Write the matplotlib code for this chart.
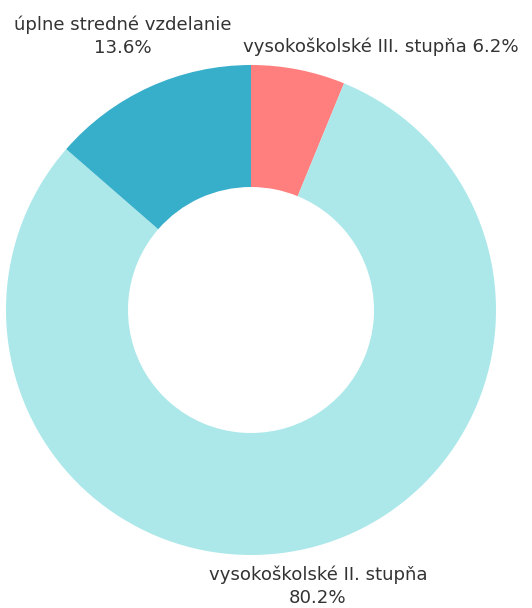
import matplotlib
matplotlib.use("Agg")
import matplotlib.pyplot as plt

labels = ["vysokoškolské III. stupňa", "vysokoškolské II. stupňa", "úplne stredné vzdelanie"]
values = [6.2, 80.2, 13.6]
colors = ["#FF7F7F", "#ACE8EA", "#37AFCA"]

fig = plt.figure(figsize=(5.32, 6.08), dpi=100)
ax = fig.add_axes([0, 0, 1, 1])

ax.pie(values, colors=colors, startangle=90, counterclock=False,
       center=(251, 608 - 310), radius=245,
       wedgeprops=dict(width=122, edgecolor="none"), frame=True)
ax.set_xlim(0, 532)
ax.set_ylim(0, 608)
ax.set_aspect("equal")
ax.axis("off")

font = dict(family="DejaVu Sans", fontsize=13.1, color="#333333")
ax.text(243, 608 - 47, f"{labels[0]} {values[0]}%", ha="left", va="center", **font)
ax.text(123, 608 - 36, f"{labels[2]}\n{values[2]}%", ha="center", va="center",
        linespacing=1.35, **font)
ax.text(318, 608 - 586, f"{labels[1]}\n{values[1]}%", ha="center", va="center",
        linespacing=1.35, **font)

fig.savefig("out.png", dpi=100)
